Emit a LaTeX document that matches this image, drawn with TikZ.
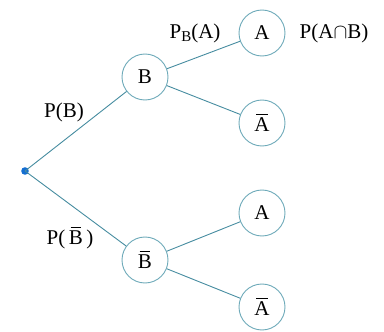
\documentclass[tikz,border=0pt]{standalone}
\usepackage{fontspec}
\setmainfont{Liberation Serif}
\definecolor{edgecol}{RGB}{70,140,160}
\definecolor{circcol}{RGB}{110,170,185}
\definecolor{dotcol}{RGB}{20,110,210}
\newcommand\barred[1]{\setbox0\hbox{#1}\rlap{\raisebox{\dimexpr\ht0+2.5pt\relax}{\hbox to \wd0{\hss\rule{0.75\wd0}{1pt}\hss}}}\box0}
\begin{document}
\begin{tikzpicture}[x=1pt,y=-1pt,
  ev/.style={circle,draw=circcol,line width=0.9pt,minimum size=46pt,inner sep=0pt,font=\fontsize{21}{21}\selectfont},
  lab/.style={font=\fontsize{21}{21}\selectfont,inner sep=0pt},
  br/.style={draw=edgecol,line width=0.9pt}]
\useasboundingbox (0,0) rectangle (384,332);
\fill[dotcol] (25,171) circle (3.8pt);
\coordinate (r) at (25,171);
\node[ev] (B) at (145,77) {B};
\node[ev] (Bb) at (145,260) {\raisebox{-2pt}{\barred{B}}};
\node[ev] (A1) at (262,33) {A};
\node[ev] (A2) at (262,123) {\raisebox{-2pt}{\barred{A}}};
\node[ev] (A3) at (262,213) {A};
\node[ev] (A4) at (262,307) {\raisebox{-2pt}{\barred{A}}};
\draw[br] (r) -- (B);
\draw[br] (r) -- (Bb);
\draw[br] (B) -- (A1);
\draw[br] (B) -- (A2);
\draw[br] (Bb) -- (A3);
\draw[br] (Bb) -- (A4);
\node[lab] (l1) at (64,112) {P(B)};
\node[lab] (l2) at (70,238) {P(\,\barred{B}\,)};
\node[lab] (l3) at (195,33) {P\raisebox{-0.35ex}{\fontsize{15}{15}\selectfont B}(A)};
\node[lab] (l4) at (334,33) {P(A$\cap$B)};
\end{tikzpicture}
\end{document}
